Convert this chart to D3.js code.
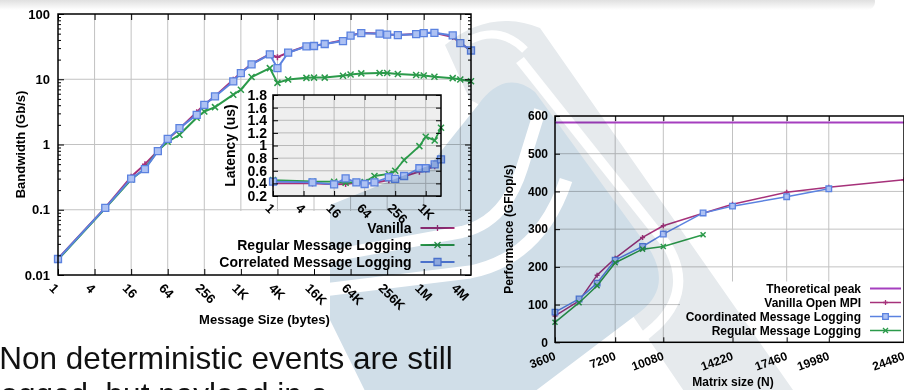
<!DOCTYPE html>
<html>
<head>
<meta charset="utf-8">
<script src="https://cdn.jsdelivr.net/npm/d3@7"></script>
<style>
body { margin: 0; background: #fff; }
svg { display: block; font-family: "Liberation Sans", Arial, sans-serif; }
</style>
</head>
<body>
<div id="slide"></div>
<script>
// ---- bandwidth (left chart)
var msgSizes = [1, 6, 16, 27, 44, 64, 100, 192, 256, 384, 768, 1024, 1536, 3072, 4096, 6144,
    12288, 16384, 24576, 49152, 65536, 98304, 196608, 262144, 393216, 786432, 1048576,
    1572864, 3145728, 4194304, 6291456];
var bwVanilla = [0.0178, 0.108, 0.32, 0.50, 0.80, 1.20, 1.75, 3.13, 4.10, 5.50, 9.8, 12.6, 17.2,
    24.3, 21.8, 25.7, 32.3, 32.6, 34.8, 39.5, 46.8, 51.0, 50.2, 48.6, 47.6, 49.3, 51.3, 51.5,
    44.5, 36.0, 27.5];
var bwRegular = [0.0172, 0.105, 0.29, 0.43, 0.80, 1.10, 1.41, 2.57, 3.20, 3.74, 5.8, 6.9, 10.8,
    14.8, 8.8, 9.9, 10.5, 10.6, 10.6, 11.3, 11.8, 12.3, 12.5, 12.5, 12.0, 11.6, 11.4, 10.9,
    10.4, 9.9, 9.3];
var bwCorrelated = [0.0176, 0.107, 0.30, 0.42, 0.79, 1.22, 1.78, 2.85, 4.06, 5.45, 9.25, 12.4,
    16.9, 24.0, 14.8, 25.5, 31.9, 32.3, 34.7, 38.5, 46.5, 50.9, 50.0, 48.4, 47.5, 49.0, 51.0,
    51.5, 47.0, 35.8, 27.6];
var sizeTicks = [1, 4, 16, 64, 256, 1024, 4096, 16384, 65536, 262144, 1048576, 4194304];
var sizeTickLabels = ["1", "4", "16", "64", "256", "1K", "4K", "16K", "64K", "256K", "1M", "4M"];
var bwTicks = [0.01, 0.1, 1, 10, 100];
var bwTickLabels = ["0.01", "0.1", "1", "10", "100"];

// ---- latency (inset)
var latSizes = [1, 6, 16, 27, 44, 64, 100, 192, 256, 384, 768, 1024, 1536, 2048];
var latVanilla = [0.40, 0.40, 0.385, 0.39, 0.41, 0.39, 0.41, 0.45, 0.46, 0.51, 0.585, 0.62, 0.67, 0.78];
var latRegular = [0.453, 0.43, 0.427, 0.41, 0.42, 0.42, 0.517, 0.55, 0.60, 0.77, 0.99, 1.14, 1.08, 1.28];
var latCorrelated = [0.427, 0.417, 0.385, 0.48, 0.417, 0.39, 0.417, 0.497, 0.47, 0.517, 0.64, 0.64, 0.70, 0.78];
var latXTicks = [1, 4, 16, 64, 256, 1024];
var latXTickLabels = ["1", "4", "16", "64", "256", "1K"];
var latYTicks = [0.2, 0.4, 0.6, 0.8, 1, 1.2, 1.4, 1.6, 1.8];

// ---- performance (right chart)
var matrixN = [3600, 5040, 6120, 7200, 8840, 10080, 12460, 14220, 17460, 19980, 24480];
var perfVanilla = [70, 110, 178, 223, 278, 309, 342, 366, 398, 411, 431];
var perfCoordinated = [80, 115, 157, 218, 254, 287, 343, 361, 386, 407];
var perfRegular = [53, 105, 150, 211, 247, 254, 285];
var peakValue = 582.6;
var nTicks = [3600, 7200, 10080, 14220, 17460, 19980, 24480];
var perfTicks = [0, 100, 200, 300, 400, 500, 600];

var col = {
    vanilla: "#a6317a",
    regular: "#2b9a4a",
    correlated: "#5b82e0",
    peak: "#a53fbf",
    grid: "#c2c2c2"
};

var svg = d3.select("#slide").append("svg")
    .attr("width", 904)
    .attr("height", 390);

svg.append("rect").attr("width", 904).attr("height", 390).attr("fill", "#fff");

// top shadow of the slide frame
var defs = svg.append("defs");
var grad = defs.append("linearGradient").attr("id", "topShade")
    .attr("x1", 0).attr("y1", 0).attr("x2", 0).attr("y2", 1);
grad.append("stop").attr("offset", "0%").attr("stop-color", "#cdcdcd");
grad.append("stop").attr("offset", "100%").attr("stop-color", "#ffffff");
svg.append("rect").attr("x", -20).attr("y", -6).attr("width", 895).attr("height", 16)
    .attr("rx", 8).attr("fill", "url(#topShade)");

function markerPath(kind, px, py, r) {
    if (kind == "plus") {
        return "M" + (px - r) + "," + py + "H" + (px + r) + "M" + px + "," + (py - r) + "V" + (py + r);
    }
    if (kind == "cross") {
        return "M" + (px - r) + "," + (py - r) + "L" + (px + r) + "," + (py + r) +
            "M" + (px - r) + "," + (py + r) + "L" + (px + r) + "," + (py - r);
    }
    return "M" + (px - r) + "," + (py - r) + "h" + (2 * r) + "v" + (2 * r) + "h" + (-2 * r) + "Z";
}

function drawSeries(g, xs, ys, sx, sy, color, kind, lw, r) {
    var pts = xs.slice(0, ys.length).map(function(d, i) { return [d, ys[i]]; });
    var line = d3.line()
        .x(function(d) { return sx(d[0]); })
        .y(function(d) { return sy(d[1]); });
    g.append("path")
        .attr("d", line(pts))
        .attr("fill", "none")
        .attr("stroke", color)
        .attr("stroke-width", lw)
        .attr("stroke-linejoin", "round");
    g.selectAll(null)
        .data(pts)
        .enter()
        .append("path")
        .attr("d", function(d) { return markerPath(kind, sx(d[0]), sy(d[1]), r); })
        .attr("fill", kind == "square" ? "#adc1f3" : "none")
        .attr("stroke", color)
        .attr("stroke-width", kind == "square" ? 1.3 : 1.5);
}

function styleAxis(g, size) {
    g.select(".domain").remove();
    g.selectAll("line").attr("stroke", "#000").attr("stroke-width", 1);
    g.selectAll("text")
        .attr("fill", "#000")
        .style("font-size", size + "px")
        .style("font-weight", "bold");
}

function legendRow(g, label, x, y, color, kind, lw, r, size, len) {
    g.append("text")
        .attr("x", x).attr("y", y).attr("dy", "0.35em")
        .attr("text-anchor", "end")
        .style("font-size", size + "px").style("font-weight", "bold")
        .text(label);
    var x0 = x + 9, x1 = x0 + len;
    g.append("line")
        .attr("x1", x0).attr("x2", x1).attr("y1", y).attr("y2", y)
        .attr("stroke", color).attr("stroke-width", lw);
    if (kind) {
        g.append("path")
            .attr("d", markerPath(kind, (x0 + x1) / 2, y, r))
            .attr("fill", kind == "square" ? "#adc1f3" : "none")
            .attr("stroke", color).attr("stroke-width", 1.3);
    }
}

// ================= left chart: bandwidth =================
var L = { left: 58, right: 471, top: 14, bottom: 275 };
var bx = d3.scaleLog().base(2).domain([1, 6291456]).range([L.left, L.right]);
var by = d3.scaleLog().domain([0.01, 100]).range([L.bottom, L.top]);
var left = svg.append("g");

var minorBw = [];
[0.01, 0.1, 1, 10].forEach(function(d) {
    for (var k = 2; k < 10; k++) minorBw.push(d * k);
});

left.selectAll(null).data(sizeTicks.slice(1)).enter().append("line")
    .attr("x1", bx).attr("x2", bx).attr("y1", L.top).attr("y2", L.bottom)
    .attr("stroke", col.grid);
left.selectAll(null).data(bwTicks.slice(1, 4)).enter().append("line")
    .attr("x1", L.left).attr("x2", L.right).attr("y1", by).attr("y2", by)
    .attr("stroke", col.grid);

// opaque key box
left.append("rect").attr("x", 220).attr("y", 211).attr("width", L.right - 220)
    .attr("height", L.bottom - 211).attr("fill", "#fff");

var lines = left.append("g");
drawSeries(lines, msgSizes, bwVanilla, bx, by, col.vanilla, "plus", 2, 3);
drawSeries(lines, msgSizes, bwRegular, bx, by, col.regular, "cross", 2, 3);
drawSeries(lines, msgSizes, bwCorrelated, bx, by, col.correlated, "square", 2, 3.5);

var axB = left.append("g").attr("transform", "translate(0," + L.bottom + ")")
    .call(d3.axisBottom(bx).tickValues(sizeTicks)
        .tickFormat(function(d, i) { return sizeTickLabels[i]; }).tickSize(-6));
styleAxis(axB, 13);
axB.selectAll("text").attr("y", 0).attr("dy", 0)
    .attr("text-anchor", "start")
    .attr("transform", "translate(-10,14) rotate(45)");
var axT = left.append("g").attr("transform", "translate(0," + L.top + ")")
    .call(d3.axisTop(bx).tickValues(sizeTicks).tickFormat("").tickSize(-6));
styleAxis(axT, 13);
var axL = left.append("g").attr("transform", "translate(" + L.left + ",0)")
    .call(d3.axisLeft(by).tickValues(bwTicks)
        .tickFormat(function(d, i) { return bwTickLabels[i]; }).tickSize(-6).tickPadding(8));
styleAxis(axL, 13);
var axLm = left.append("g").attr("transform", "translate(" + L.left + ",0)")
    .call(d3.axisLeft(by).tickValues(minorBw).tickFormat("").tickSize(-3));
styleAxis(axLm, 13);
var axR = left.append("g").attr("transform", "translate(" + L.right + ",0)")
    .call(d3.axisRight(by).tickValues(bwTicks).tickFormat("").tickSize(-6));
styleAxis(axR, 13);
var axRm = left.append("g").attr("transform", "translate(" + L.right + ",0)")
    .call(d3.axisRight(by).tickValues(minorBw).tickFormat("").tickSize(-3));
styleAxis(axRm, 13);

left.append("rect").attr("x", L.left).attr("y", L.top)
    .attr("width", L.right - L.left).attr("height", L.bottom - L.top)
    .attr("fill", "none").attr("stroke", "#000").attr("stroke-width", 1.5);

left.append("text").attr("transform", "translate(24.5," + ((L.top + L.bottom) / 2) + ") rotate(-90)")
    .attr("text-anchor", "middle").style("font-size", "13px").style("font-weight", "bold")
    .text("Bandwidth (Gb/s)");
left.append("text").attr("x", (L.left + L.right) / 2).attr("y", 324)
    .attr("text-anchor", "middle").style("font-size", "13px").style("font-weight", "bold")
    .text("Message Size (bytes)");

legendRow(left, "Vanilla", 411.5, 228, col.vanilla, "plus", 2, 3, 14, 34);
legendRow(left, "Regular Message Logging", 411.5, 245, col.regular, "cross", 2, 3, 14, 34);
legendRow(left, "Correlated Message Logging", 411.5, 262, col.correlated, "square", 2, 3.5, 14, 34);

// ================= inset: latency =================
var I = { left: 273, right: 441, top: 95, bottom: 196 };
var ix = d3.scaleLog().base(2).domain([1, 2048]).range([I.left, I.right]);
var iy = d3.scaleLinear().domain([0.2, 1.8]).range([I.bottom, I.top]);
var inset = svg.append("g");

inset.append("rect").attr("x", I.left).attr("y", I.top)
    .attr("width", I.right - I.left).attr("height", I.bottom - I.top).attr("fill", "#efefef");
inset.selectAll(null).data(latXTicks.slice(1)).enter().append("line")
    .attr("x1", ix).attr("x2", ix).attr("y1", I.top).attr("y2", I.bottom)
    .attr("stroke", "#b9b9b9");
inset.selectAll(null).data(latYTicks.slice(1, -1)).enter().append("line")
    .attr("x1", I.left).attr("x2", I.right).attr("y1", iy).attr("y2", iy)
    .attr("stroke", "#b9b9b9");

var ilines = inset.append("g");
drawSeries(ilines, latSizes, latVanilla, ix, iy, col.vanilla, "plus", 1.8, 3);
drawSeries(ilines, latSizes, latRegular, ix, iy, col.regular, "cross", 1.8, 3);
drawSeries(ilines, latSizes, latCorrelated, ix, iy, col.correlated, "square", 1.8, 3.5);

var iaxB = inset.append("g").attr("transform", "translate(0," + I.bottom + ")")
    .call(d3.axisBottom(ix).tickValues(latXTicks)
        .tickFormat(function(d, i) { return latXTickLabels[i]; }).tickSize(-5));
styleAxis(iaxB, 13);
iaxB.selectAll("text").attr("y", 0).attr("dy", 0)
    .attr("text-anchor", "start")
    .attr("transform", "translate(-9,13) rotate(45)");
var iaxT = inset.append("g").attr("transform", "translate(0," + I.top + ")")
    .call(d3.axisTop(ix).tickValues(latXTicks).tickFormat("").tickSize(-5));
styleAxis(iaxT, 13);
var iaxL = inset.append("g").attr("transform", "translate(" + I.left + ",0)")
    .call(d3.axisLeft(iy).tickValues(latYTicks).tickFormat(d3.format("~g")).tickSize(-5).tickPadding(6));
styleAxis(iaxL, 14);
var iaxR = inset.append("g").attr("transform", "translate(" + I.right + ",0)")
    .call(d3.axisRight(iy).tickValues(latYTicks).tickFormat("").tickSize(-5));
styleAxis(iaxR, 14);
inset.append("rect").attr("x", I.left).attr("y", I.top)
    .attr("width", I.right - I.left).attr("height", I.bottom - I.top)
    .attr("fill", "none").attr("stroke", "#000").attr("stroke-width", 1.5);
inset.append("text").attr("transform", "translate(235," + ((I.top + I.bottom) / 2) + ") rotate(-90)")
    .attr("text-anchor", "middle").style("font-size", "14px").style("font-weight", "bold")
    .text("Latency (us)");

// ================= right chart: performance =================
var R = { left: 555, right: 904, top: 116, bottom: 342.3 };
var rx = d3.scaleLinear().domain([3600, 24480]).range([R.left, R.right]);
var ry = d3.scaleLinear().domain([0, 600]).range([R.bottom, R.top]);
var right = svg.append("g");

right.selectAll(null).data(nTicks.slice(1, -1)).enter().append("line")
    .attr("x1", rx).attr("x2", rx).attr("y1", R.top).attr("y2", R.bottom)
    .attr("stroke", col.grid);
right.selectAll(null).data(perfTicks.slice(1, -1)).enter().append("line")
    .attr("x1", R.left).attr("x2", R.right).attr("y1", ry).attr("y2", ry)
    .attr("stroke", col.grid);
// opaque key box
right.append("rect").attr("x", 680).attr("y", 281.5).attr("width", R.right - 680)
    .attr("height", R.bottom - 281.5).attr("fill", "#fff");

right.append("line")
    .attr("x1", rx(nTicks[0])).attr("x2", rx(nTicks[nTicks.length - 1]))
    .attr("y1", ry(peakValue)).attr("y2", ry(peakValue))
    .attr("stroke", col.peak).attr("stroke-width", 2);
var rlines = right.append("g");
drawSeries(rlines, matrixN, perfVanilla, rx, ry, col.vanilla, "plus", 1.5, 2.5);
drawSeries(rlines, matrixN, perfCoordinated, rx, ry, col.correlated, "square", 1.5, 2.8);
drawSeries(rlines, matrixN, perfRegular, rx, ry, col.regular, "cross", 1.5, 2.5);

var raxB = right.append("g").attr("transform", "translate(0," + R.bottom + ")")
    .call(d3.axisBottom(rx).tickValues(nTicks).tickSize(-5).tickFormat(d3.format("d")));
styleAxis(raxB, 12);
raxB.selectAll("text").attr("y", 0).attr("dy", 0)
    .attr("text-anchor", "end")
    .attr("transform", "translate(1,17) rotate(-20)");
var raxT = right.append("g").attr("transform", "translate(0," + R.top + ")")
    .call(d3.axisTop(rx).tickValues(nTicks).tickFormat("").tickSize(-5));
styleAxis(raxT, 12);
var raxL = right.append("g").attr("transform", "translate(" + R.left + ",0)")
    .call(d3.axisLeft(ry).tickValues(perfTicks).tickSize(-5).tickPadding(7));
styleAxis(raxL, 12);
right.append("rect").attr("x", R.left).attr("y", R.top)
    .attr("width", R.right - R.left).attr("height", R.bottom - R.top)
    .attr("fill", "none").attr("stroke", "#000").attr("stroke-width", 1.5);

right.append("text").attr("transform", "translate(512.5," + ((R.top + R.bottom) / 2) + ") rotate(-90)")
    .attr("text-anchor", "middle").style("font-size", "12px").style("font-weight", "bold")
    .text("Performance (GFlop/s)");
right.append("text").attr("x", 733).attr("y", 386)
    .attr("text-anchor", "middle").style("font-size", "12px").style("font-weight", "bold")
    .text("Matrix size (N)");

legendRow(right, "Theoretical peak", 861, 288.5, col.peak, null, 2, 0, 12, 31);
legendRow(right, "Vanilla Open MPI", 861, 302.5, col.vanilla, "plus", 1.5, 2.5, 12, 31);
legendRow(right, "Coordinated Message Logging", 861, 316.5, col.correlated, "square", 1.5, 2.8, 12, 31);
legendRow(right, "Regular Message Logging", 861, 330.5, col.regular, "cross", 1.5, 2.5, 12, 31);

// ================= slide text =================
svg.append("text").attr("x", -0.7).attr("y", 368.5)
    .style("font-size", "31.5px").attr("fill", "#111")
    .text("Non deterministic events are still");
svg.append("text").attr("x", -6.5).attr("y", 405)
    .style("font-size", "31.5px").attr("fill", "#111")
    .text("logged, but payload in a");

// ================= watermark (multiplied over everything) =================
var wm = svg.append("g").style("mix-blend-mode", "multiply");
wm.append("path")
    .attr("d", "M445,45 Q490,8 540,28 L800,400 L690,400 L520,150 Q495,110 470,100 Z")
    .attr("fill", "#e6eaed");
wm.append("path")
    .attr("d", "M330,205 L330,320 L367,395 L530,395 L640,312 Q672,287 650,250 L535,92 Q505,68 478,105 L430,165 Z")
    .attr("fill", "#d0dee8");
wm.append("path")
    .attr("d", "M320,258 L462,232 Q505,222 522,168 L540,110")
    .attr("fill", "none").attr("stroke", "#fff").attr("stroke-width", 12);
wm.append("path")
    .attr("d", "M225,302 L470,272 Q540,258 566,180")
    .attr("fill", "none").attr("stroke", "#fff").attr("stroke-width", 13);
wm.append("path")
    .attr("d", "M520,60 L667,245 Q694,290 656,326 L572,398")
    .attr("fill", "none").attr("stroke", "#fff").attr("stroke-width", 10);
wm.append("path")
    .attr("d", "M470,40 Q500,25 525,50")
    .attr("fill", "none").attr("stroke", "#fff").attr("stroke-width", 8);
</script>
</body>
</html>
